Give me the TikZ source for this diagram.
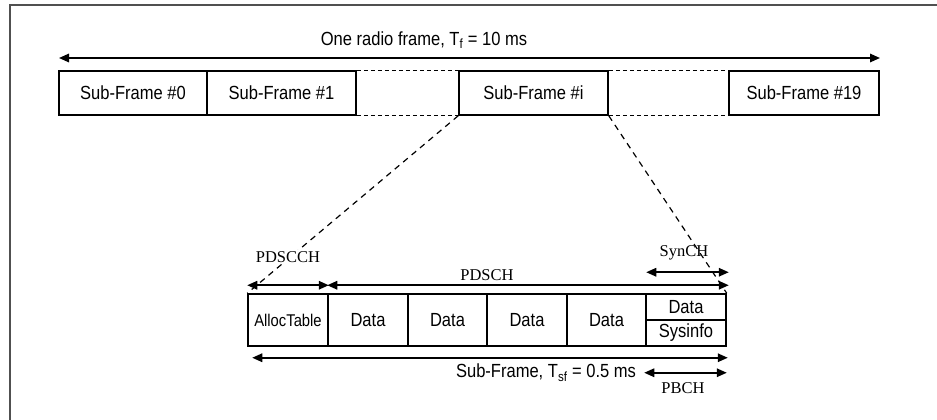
\documentclass[tikz,border=0pt]{standalone}
\usepackage{fontspec}
\setmainfont{Liberation Serif}
\newfontfamily\narrowsans[FakeStretch=0.87]{Liberation Sans}
\usetikzlibrary{arrows.meta}

\begin{document}
\begin{tikzpicture}[x=1pt,y=-1pt,
  sanslbl/.style={font=\narrowsans\fontsize{19}{22}\selectfont, inner sep=0pt},
  seriflbl/.style={font=\fontsize{16.5}{19}\selectfont, inner sep=1pt},
  framebox/.style={draw, line width=1.5pt, minimum height=44pt, inner sep=0pt,
    font=\narrowsans\fontsize{19}{22}\selectfont},
  slotbox/.style={draw, line width=1.5pt, minimum height=52pt, minimum width=80pt,
    inner sep=0pt, font=\narrowsans\fontsize{19}{22}\selectfont},
  halfbox/.style={draw, line width=1.5pt, minimum height=26pt, minimum width=80pt,
    inner sep=0pt, font=\narrowsans\fontsize{19}{22}\selectfont},
  gapline/.style={line width=1.1pt, dash pattern=on 4pt off 3pt},
  zoomline/.style={line width=1.2pt, dash pattern=on 6pt off 5pt},
  span/.style={line width=1.6pt,
    {Triangle[length=10pt,width=8.5pt]}-{Triangle[length=10pt,width=8.5pt]}},
]
\useasboundingbox (0,0) rectangle (937,420);

% outer border (left and top edges)
\draw[line width=2pt, color={rgb,255:red,80;green,80;blue,80}]
  (10,420) -- (10,5) -- (937,5);

% radio frame: row of sub-frames
\node[framebox, minimum width=148pt] (sf0)  at (133,93)   {Sub-Frame \#0};
\node[framebox, minimum width=149pt] (sf1)  at (281.5,93) {Sub-Frame \#1};
\node[framebox, minimum width=149pt] (sfi)  at (533.5,93) {Sub-Frame \#i};
\node[framebox, minimum width=150pt] (sf19) at (804,93)   {Sub-Frame \#19};

\draw[gapline] (sf1.north east) -- (sfi.north west);
\draw[gapline] (sf1.south east) -- (sfi.south west);
\draw[gapline] (sfi.north east) -- (sf19.north west);
\draw[gapline] (sfi.south east) -- (sf19.south west);

% frame duration
\coordinate (fl) at (59,58);
\coordinate (fr) at (880,58);
\draw[span] (fl) -- (fr);
\node[sanslbl] (ftxt) at (424,40) {One radio frame, T\textsubscript{f} = 10 ms};

% expanded sub-frame
\node[slotbox] (alloc) at (288,320) {\fontsize{17}{20}\selectfont AllocTable};
\node[slotbox] (d1) at (368,320)   {Data};
\node[slotbox] (d2) at (447.5,320) {Data};
\node[slotbox] (d3) at (527,320)   {Data};
\node[slotbox] (d4) at (606.5,320) {Data};
\node[halfbox] (d5) at (686,307)   {Data};
\node[halfbox] (sys) at (686,333)  {Sysinfo};

% zoom lines from sub-frame #i
\draw[zoomline] (sfi.south west) -- (alloc.north west);
\draw[zoomline] (sfi.south east) -- (d5.north east);

% channel labels and spans
\node[seriflbl, fill=white] (pdscch) at (288,257) {PDSCCH};
\draw[span] ([yshift=8pt]alloc.north west) -- ([yshift=8pt]alloc.north east);
\draw[span] ([yshift=8pt]d1.north west) -- ([yshift=8pt,xshift=2pt]d5.north east);
\node[seriflbl] (pdsch) at (487,275) {PDSCH};

\draw[span] ([yshift=21pt,xshift=1pt]d5.north west) -- ([yshift=21pt,xshift=2pt]d5.north east);
\node[seriflbl] (synch) at (684,253) {SynCH};

\draw[span] ([yshift=-11pt,xshift=5pt]alloc.south west) -- ([yshift=-11pt,xshift=1pt]sys.south east);
\node[sanslbl] (sftxt) at (546,373) {Sub-Frame, T\textsubscript{sf} = 0.5 ms};

\draw[span] ([yshift=-26pt,xshift=-1pt]sys.south west) -- ([yshift=-26pt]sys.south east);
\node[seriflbl] (pbch) at (683,388) {PBCH};
\end{tikzpicture}
\end{document}
